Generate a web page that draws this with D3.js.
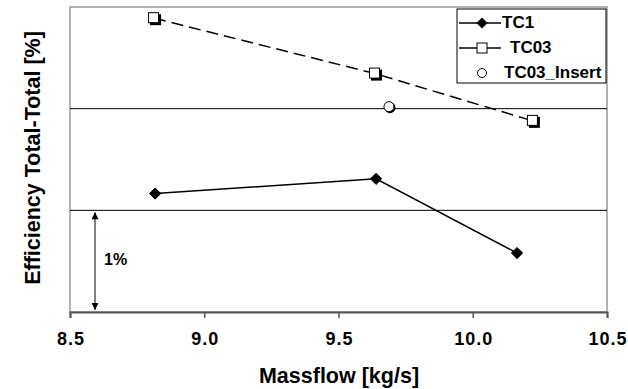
<!DOCTYPE html>
<html>
<head>
<meta charset="utf-8">
<script src="https://cdn.jsdelivr.net/npm/d3@7"></script>
<style>
  body { margin: 0; background: #fff; }
  text { font-family: "Liberation Sans", Arial, sans-serif; font-weight: bold; fill: #000; }
</style>
</head>
<body>
<svg id="chart" width="628" height="389"></svg>
<script>
// data (y in % relative to bottom of plot, gridlines every 1%)
var tc1Mass = [8.817, 9.64, 10.165]
  , tc1Eff = [1.165, 1.31, 0.58]
  , tc03Mass = [8.813, 9.636, 10.224]
  , tc03Eff = [2.89, 2.345, 1.88]
  , insertMass = [9.688]
  , insertEff = [2.02]
  , xTicks = [8.5, 9.0, 9.5, 10.0, 10.5]
  , yGrid = [1, 2]
  , legendNames = ["TC1", "TC03", "TC03_Insert"]

var svg = d3.select("#chart")
  , plotLeft = 70, plotRight = 607, plotTop = 7, plotBottom = 312

var x = d3.scaleLinear().domain([8.5, 10.5]).range([plotLeft, plotRight])
var y = d3.scaleLinear().domain([0, 3]).range([plotBottom, plotTop])

// plot frame
svg.append("rect")
  .attr("x", plotLeft).attr("y", plotTop)
  .attr("width", plotRight - plotLeft).attr("height", plotBottom - plotTop)
  .attr("fill", "none").attr("stroke", "#999").attr("stroke-width", 1.5)

// gridlines
svg.append("g").selectAll("line")
  .data(yGrid)
  .enter().append("line")
    .attr("x1", plotLeft).attr("x2", plotRight)
    .attr("y1", function(d){ return y(d) }).attr("y2", function(d){ return y(d) })
    .attr("stroke", "#000").attr("stroke-width", 1)

// x axis
var xAxis = d3.axisBottom(x).tickValues(xTicks).tickFormat(d3.format(".1f")).tickSize(6)
var gx = svg.append("g")
  .attr("transform", "translate(0," + plotBottom + ")")
  .call(xAxis)
gx.select(".domain").attr("stroke", "#555").attr("stroke-width", 2)
gx.selectAll(".tick line").attr("stroke", "#555").attr("stroke-width", 1.5)
gx.selectAll(".tick text")
  .attr("y", 33).attr("dy", 0).attr("dx", "0.5px")
  .style("font-family", "Liberation Sans, Arial, sans-serif")
  .style("font-weight", "bold").style("font-size", "18px")
  .style("letter-spacing", "1px").attr("fill", "#000")

// axis titles
svg.append("text")
  .attr("x", 339).attr("y", 383)
  .attr("text-anchor", "middle").style("font-size", "21.5px")
  .text("Massflow [kg/s]")
svg.append("text")
  .attr("transform", "translate(40,158) rotate(-90)")
  .attr("text-anchor", "middle").style("font-size", "21.5px")
  .text("Efficiency Total-Total [%]")

// 1% arrow
var defs = svg.append("defs")
defs.append("marker")
  .attr("id", "arrowhead").attr("viewBox", "0 0 10 10")
  .attr("refX", 10).attr("refY", 5)
  .attr("markerWidth", 8).attr("markerHeight", 7)
  .attr("markerUnits", "userSpaceOnUse")
  .attr("orient", "auto-start-reverse")
  .append("path").attr("d", "M0,0 L10,5 L0,10 Z").attr("fill", "#000")
svg.append("line")
  .attr("x1", 95).attr("x2", 95)
  .attr("y1", y(1) + 2).attr("y2", y(0) - 2)
  .attr("stroke", "#000").attr("stroke-width", 1)
  .attr("marker-start", "url(#arrowhead)").attr("marker-end", "url(#arrowhead)")
svg.append("text")
  .attr("x", 104).attr("y", 265)
  .style("font-size", "16px")
  .text("1%")

var line = d3.line().x(function(d){ return x(d[0]) }).y(function(d){ return y(d[1]) })

// series
var tc1 = d3.zip(tc1Mass, tc1Eff)
  , tc03 = d3.zip(tc03Mass, tc03Eff)
  , ins = d3.zip(insertMass, insertEff)

svg.append("path").datum(tc1).attr("d", line)
  .attr("fill", "none").attr("stroke", "#000").attr("stroke-width", 1.5)
svg.append("path").datum(tc03).attr("d", line)
  .attr("fill", "none").attr("stroke", "#000").attr("stroke-width", 1.5)
  .attr("stroke-dasharray", "12,6")

var diamond = d3.symbol().type(d3.symbolDiamond2).size(80)

function drawDiamond(g, cx, cy){
  g.append("path").attr("d", diamond())
    .attr("transform", "translate(" + cx + "," + cy + ")")
    .attr("fill", "#000").attr("stroke", "#000").attr("stroke-width", 1)
}
function drawSquare(g, cx, cy){
  g.append("rect").attr("x", cx - 4).attr("y", cy - 4).attr("width", 11).attr("height", 11).attr("fill", "#000")
  g.append("rect").attr("x", cx - 5.5).attr("y", cy - 5.5).attr("width", 10).attr("height", 10)
    .attr("fill", "#fff").attr("stroke", "#000").attr("stroke-width", 1)
}
function drawCircle(g, cx, cy){
  g.append("circle").attr("cx", cx + 1).attr("cy", cy + 1).attr("r", 5.5).attr("fill", "#000")
  g.append("circle").attr("cx", cx).attr("cy", cy).attr("r", 5)
    .attr("fill", "#fff").attr("stroke", "#000").attr("stroke-width", 1)
}

var marks = svg.append("g")
tc1.forEach(function(d){ drawDiamond(marks, x(d[0]), y(d[1])) })
tc03.forEach(function(d){ drawSquare(marks, x(d[0]), y(d[1])) })
ins.forEach(function(d){ drawCircle(marks, x(d[0]), y(d[1])) })

// legend
var legend = svg.append("g").attr("id", "legend")
legend.append("rect")
  .attr("x", 457).attr("y", 9).attr("width", 149).attr("height", 74)
  .attr("fill", "#fff").attr("stroke", "#000").attr("stroke-width", 1)
var ly = [23, 48, 73]
  , lx = [502, 510, 504]
legendNames.forEach(function(name, i){
  var cy = ly[i]
  if (i < 2) {
    legend.append("line").attr("x1", 459).attr("x2", 501).attr("y1", cy).attr("y2", cy)
      .attr("stroke", "#000").attr("stroke-width", 1.5)
  }
  if (i === 0) {
    legend.append("path").attr("d", diamond())
      .attr("transform", "translate(482," + cy + ")").attr("fill", "#000")
  } else if (i === 1) {
    legend.append("rect").attr("x", 477).attr("y", cy - 5).attr("width", 10).attr("height", 10)
      .attr("fill", "#fff").attr("stroke", "#000").attr("stroke-width", 1)
  } else {
    legend.append("circle").attr("cx", 482).attr("cy", cy).attr("r", 4.5)
      .attr("fill", "#fff").attr("stroke", "#000").attr("stroke-width", 1)
  }
  legend.append("text").attr("x", lx[i]).attr("y", cy + 5)
    .style("font-size", "17px").text(name)
})
</script>
</body>
</html>
